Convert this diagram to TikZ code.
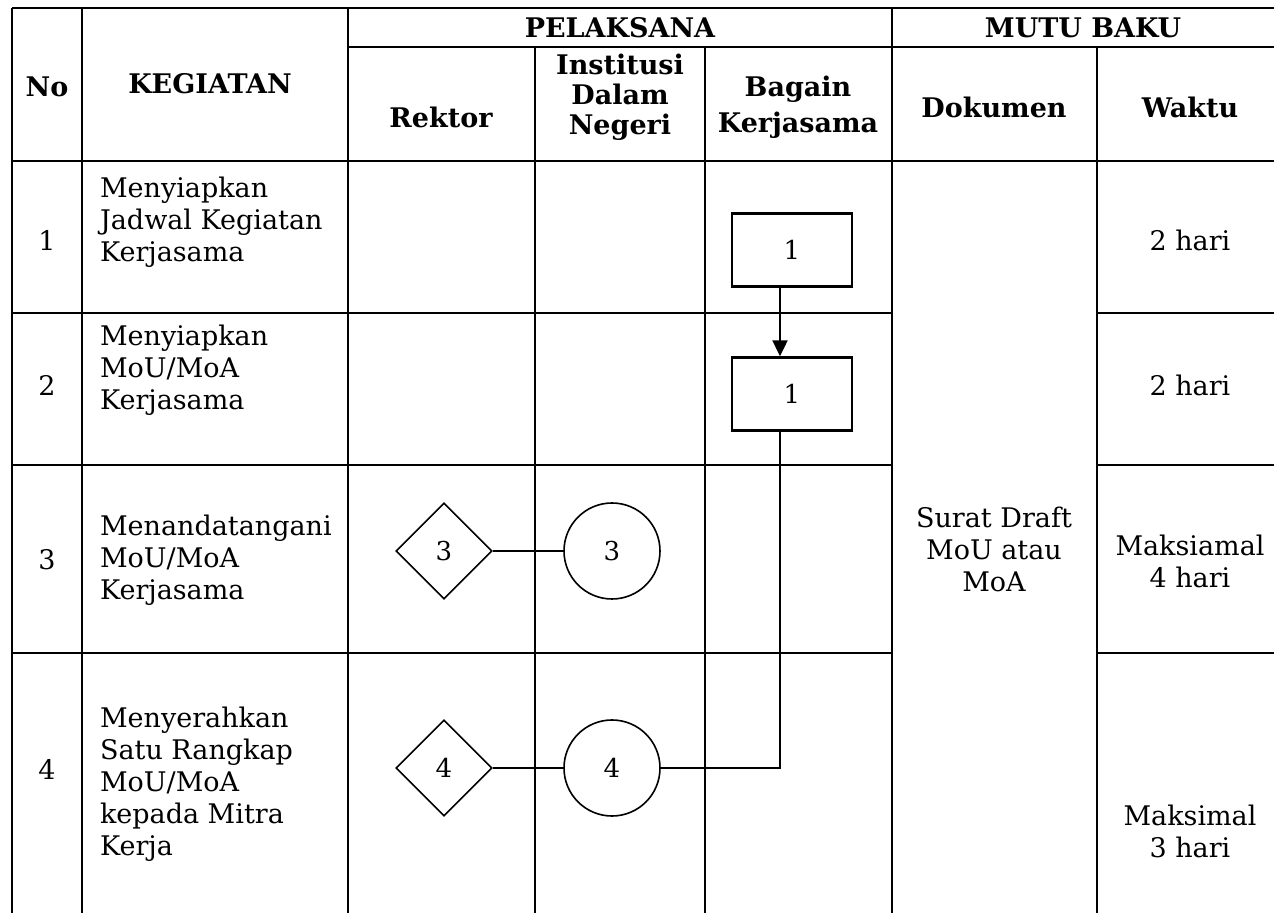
\documentclass[tikz,border=0pt]{standalone}
\usepackage{fontspec}
\setmainfont{DejaVu Serif}
\usetikzlibrary{shapes.geometric, arrows.meta, positioning}
\tikzset{
  tabline/.style={line width=0.65pt},
  flowline/.style={line width=1.1pt},
  linkline/.style={line width=0.7pt},
  arrow/.style={-{Triangle[length=8pt, width=7.5pt]}, flowline},
  procbox/.style={rectangle, draw, line width=1.2pt, minimum width=60pt,
                  minimum height=36.5pt, inner sep=0pt, font=\fontsize{13}{15}\selectfont},
  decbox/.style={diamond, draw, line width=0.8pt, aspect=1, minimum width=48pt,
                 minimum height=48pt, inner sep=0pt, font=\fontsize{13}{15}\selectfont},
  linkcirc/.style={circle, draw, line width=0.8pt, minimum size=48pt,
                   inner sep=0pt, font=\fontsize{13}{15}\selectfont},
  headtext/.style={font=\bfseries\fontsize{13.5}{15}\selectfont, align=center},
  celltext/.style={font=\fontsize{13.5}{16}\selectfont, align=center},
  acttext/.style={font=\fontsize{13.5}{16}\selectfont, align=left, anchor=west},
}

\begin{document}
\begin{tikzpicture}[x=0.5pt, y=-0.5pt]
  \useasboundingbox (0,0) rectangle (1274,913);
  \clip (0,0) rectangle (1274,913);

  % table grid
  \draw[tabline] (12,8) -- (1290,8);
  \draw[tabline] (348,47) -- (1290,47);
  \draw[tabline] (12,161) -- (1290,161);
  \foreach \y in {313,465,653} {
    \draw[tabline] (12,\y) -- (892,\y);
    \draw[tabline] (1097,\y) -- (1290,\y);
  }
  \foreach \x in {12,82,348,892} \draw[tabline] (\x,8) -- (\x,913);
  \foreach \x in {535,705,1097} \draw[tabline] (\x,47) -- (\x,913);

  % header
  \node[headtext] (hpel) at (620,28) {PELAKSANA};
  \node[headtext] (hmutu) at (1083,28) {MUTU BAKU};
  \node[headtext] (hno) at (47,87) {No};
  \node[headtext] (hkeg) at (210,84) {KEGIATAN};
  \node[headtext] (hrek) at (441,117) {Rektor};
  \node[headtext] (hins) at (620,97) {Institusi\\Dalam\\Negeri};
  \node[headtext] (hbag) at (798,107) {Bagain\\[3pt]Kerjasama};
  \node[headtext] (hdok) at (994,107) {Dokumen};
  \node[headtext] (hwak) at (1190,107) {Waktu};

  % rows
  \node[celltext] (no1) at (47,240) {1};
  \node[celltext] (no2) at (47,385) {2};
  \node[celltext] (no3) at (47,560) {3};
  \node[celltext] (no4) at (47,769) {4};

  \node[acttext] (act1) at (93,222) {Menyiapkan\\Jadwal Kegiatan\\Kerjasama};
  \node[acttext] (act2) at (93,370) {Menyiapkan\\MoU/MoA\\Kerjasama};
  \node[acttext] (act3) at (93,560) {Menandatangani\\MoU/MoA\\Kerjasama};
  \node[acttext] (act4) at (93,784) {Menyerahkan\\Satu Rangkap\\MoU/MoA\\kepada Mitra\\Kerja};

  \node[celltext] (dok) at (994,549) {Surat Draft\\MoU atau\\MoA};

  \node[celltext] (wak1) at (1190,240) {2 hari};
  \node[celltext] (wak2) at (1190,385) {2 hari};
  \node[celltext] (wak3) at (1190,561) {Maksiamal\\4 hari};
  \node[celltext] (wak4) at (1190,831) {Maksimal\\3 hari};

  % flow
  \node[procbox] (keg1) at (792,250) {1};
  \node[procbox] (keg2) at (792,394) {1};
  \node[decbox] (rek3) at (444,551) {3};
  \node[linkcirc] (ins3) at (612,551) {3};
  \node[decbox] (rek4) at (444,768) {4};
  \node[linkcirc] (ins4) at (612,768) {4};

  \draw[arrow] ([xshift=-6pt]keg1.south) -- ([xshift=-6pt]keg2.north);
  \draw[flowline] ([xshift=-6pt]keg2.south) |- (ins4.east);
  \draw[linkline] (rek3) -- (ins3);
  \draw[linkline] (rek4) -- (ins4);

\end{tikzpicture}
\end{document}
